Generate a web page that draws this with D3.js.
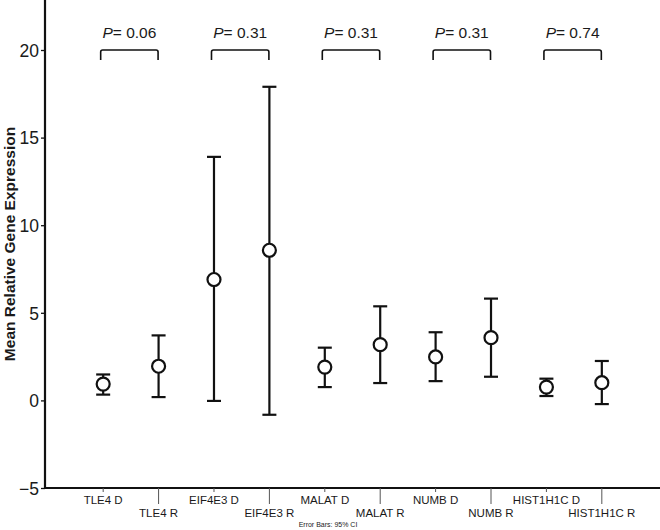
<!DOCTYPE html>
<html>
<head>
<meta charset="utf-8">
<script src="https://cdn.jsdelivr.net/npm/d3@7"></script>
<style>
  html, body { margin: 0; padding: 0; background: #fff; }
  svg { display: block; }
  text { font-family: "Liberation Sans", Arial, sans-serif; fill: #1a1a1a; }
</style>
</head>
<body>
<svg id="chart" width="660" height="530"></svg>
<script>
// ---- data ----
const categories = ["TLE4 D", "TLE4 R", "EIF4E3 D", "EIF4E3 R", "MALAT D", "MALAT R", "NUMB D", "NUMB R", "HIST1H1C D", "HIST1H1C R"];
const means  = [0.93, 1.95, 6.90, 8.57, 1.90, 3.18, 2.48, 3.58, 0.76, 1.01];
const lowerCI = [0.33, 0.19, -0.03, -0.82, 0.76, 0.99, 1.10, 1.35, 0.25, -0.21];
const upperCI = [1.48, 3.71, 13.90, 17.90, 3.01, 5.37, 3.89, 5.81, 1.24, 2.25];
const pairs = [["TLE4 D", "TLE4 R"], ["EIF4E3 D", "EIF4E3 R"], ["MALAT D", "MALAT R"], ["NUMB D", "NUMB R"], ["HIST1H1C D", "HIST1H1C R"]];
const pValues = ["0.06", "0.31", "0.31", "0.31", "0.74"];
const yTicks = [-5, 0, 5, 10, 15, 20];
const bracketLevel = 20;

// ---- scales ----
const svg = d3.select("#chart");
const x = d3.scalePoint().domain(categories).range([45, 660]).padding(1.05);
const y = d3.scaleLinear().domain([-5, 20]).range([488, 50]);

// ---- y axis ----
const yAxis = d3.axisLeft(y).tickValues(yTicks).tickSize(4).tickPadding(2).tickFormat(d3.format("d"));
const gy = svg.append("g").attr("transform", "translate(45,0)").call(yAxis);
gy.select(".domain").remove();
gy.selectAll(".tick line").attr("stroke", "#111").attr("stroke-width", 1.3);
gy.selectAll(".tick text").attr("font-size", 17.5).attr("fill", "#1a1a1a").attr("dy", "0.36em");
svg.append("line").attr("x1", 45).attr("x2", 45).attr("y1", 0).attr("y2", y(-5) + 1)
  .attr("stroke", "#111").attr("stroke-width", 2.2);

// ---- x axis ----
const gx = svg.append("g").attr("transform", `translate(0,${y(-5)})`);
gx.append("line").attr("x1", 44).attr("x2", 660).attr("y1", 0).attr("y2", 0)
  .attr("stroke", "#111").attr("stroke-width", 2.2);
categories.forEach((c, i) => {
  const lower = i % 2 === 1;
  gx.append("line").attr("x1", x(c)).attr("x2", x(c)).attr("y1", 0).attr("y2", lower ? 16 : 4)
    .attr("stroke", "#555").attr("stroke-width", 1);
  gx.append("text").attr("x", x(c)).attr("y", lower ? 29 : 16)
    .attr("text-anchor", "middle").attr("font-size", 11.5).attr("fill", "#222").text(c);
});

// ---- y title ----
svg.append("text")
  .attr("transform", `translate(15,${(y(-5) + 0) / 2}) rotate(-90)`)
  .attr("text-anchor", "middle").attr("font-size", 15.5).attr("font-weight", "bold")
  .attr("fill", "#111")
  .text("Mean Relative Gene Expression");

// ---- error bars ----
const g = svg.append("g");
categories.forEach((c, i) => {
  const cx = x(c);
  g.append("line").attr("x1", cx).attr("x2", cx).attr("y1", y(lowerCI[i])).attr("y2", y(upperCI[i]))
    .attr("stroke", "#111").attr("stroke-width", 2.2);
  [lowerCI[i], upperCI[i]].forEach(v => {
    g.append("line").attr("x1", cx - 7).attr("x2", cx + 7).attr("y1", y(v)).attr("y2", y(v))
      .attr("stroke", "#111").attr("stroke-width", 2.2);
  });
  g.append("circle").attr("cx", cx).attr("cy", y(means[i])).attr("r", 6.5)
    .attr("fill", "#fff").attr("stroke", "#111").attr("stroke-width", 2.2);
});

// ---- brackets & p values ----
pairs.forEach((p, i) => {
  const x1 = x(p[0]) - 2.5, x2 = x(p[1]) - 0.5;
  const yt = y(bracketLevel), yb = yt + 10;
  const r = 2;
  svg.append("path")
    .attr("d", `M${x1},${yb} L${x1},${yt + r} Q${x1},${yt} ${x1 + r},${yt} L${x2 - r},${yt} Q${x2},${yt} ${x2},${yt + r} L${x2},${yb}`)
    .attr("fill", "none").attr("stroke", "#111").attr("stroke-width", 1.6);
  const t = svg.append("text").attr("x", (x1 + x2) / 2).attr("y", yt - 12)
    .attr("text-anchor", "middle").attr("font-size", 15.5).attr("fill", "#111");
  t.append("tspan").attr("font-style", "italic").text("P");
  t.append("tspan").text("= " + pValues[i]);
});

// ---- footnote ----
svg.append("text").attr("x", 328).attr("y", 527).attr("text-anchor", "middle")
  .attr("font-size", 7).attr("fill", "#333").text("Error Bars: 95% CI");
</script>
</body>
</html>
